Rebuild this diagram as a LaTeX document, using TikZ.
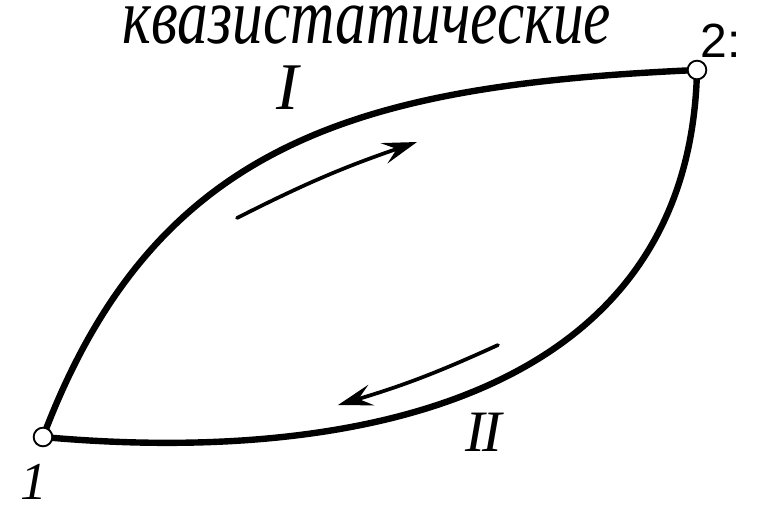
\documentclass[tikz,border=0pt]{standalone}
\usepackage{fontspec}
\setmainfont{Liberation Serif}
\newfontfamily\labelsans{Liberation Sans}
\usetikzlibrary{arrows.meta,positioning,calc}

\tikzset{
	vertex/.style={circle,draw,fill=white,line width=1.4pt,minimum size=14pt,inner sep=0pt},
	process/.style={line width=4.8pt,line cap=round},
	flow/.style={line width=2.8pt,line cap=round,-{Stealth[length=26pt,width=16pt,inset=10pt]}}
}

\begin{document}
\begin{tikzpicture}[x=0.75pt,y=-0.75pt]
	\useasboundingbox (0,0) rectangle (770,511);
	
	% end states
	\coordinate (A) at (43,437);
	\coordinate (B) at (697,70);
	
	% curve I
	\draw[process] (A) .. controls (155,140) and (360,85) .. (B);
	% curve II
	\draw[process] (A) .. controls (350,465) and (690,400) .. (B);
	
	\node[vertex] (s1) at (A) {};
	\node[vertex] (s2) at (B) {};
	
	\node[anchor=base] (title) at (367,43) {\scalebox{0.96}[1.25]{\fontsize{48}{50}\selectfont\itshape квазистатические}};
	\node (n1) at (34,482) {\fontsize{40}{40}\selectfont\itshape 1};
	\node[anchor=west] (n2) at (696,41) {\labelsans\fontsize{36}{36}\selectfont 2:};
	\node (lI) at (288,88) {\fontsize{50}{50}\selectfont\itshape I};
	\node (lII) at (484,432) {\fontsize{44}{44}\selectfont\itshape I\kern-2pt I};
	
	% directions
	\coordinate (a1) at (237,218);
	\coordinate (a2) at (417,142);
	\coordinate (b1) at (498,345);
	\coordinate (b2) at (338,405);
	\draw[flow] (a1) to[bend left=4] (a2);
	\draw[flow] (b1) to[bend left=4] (b2);
\end{tikzpicture}
\end{document}
